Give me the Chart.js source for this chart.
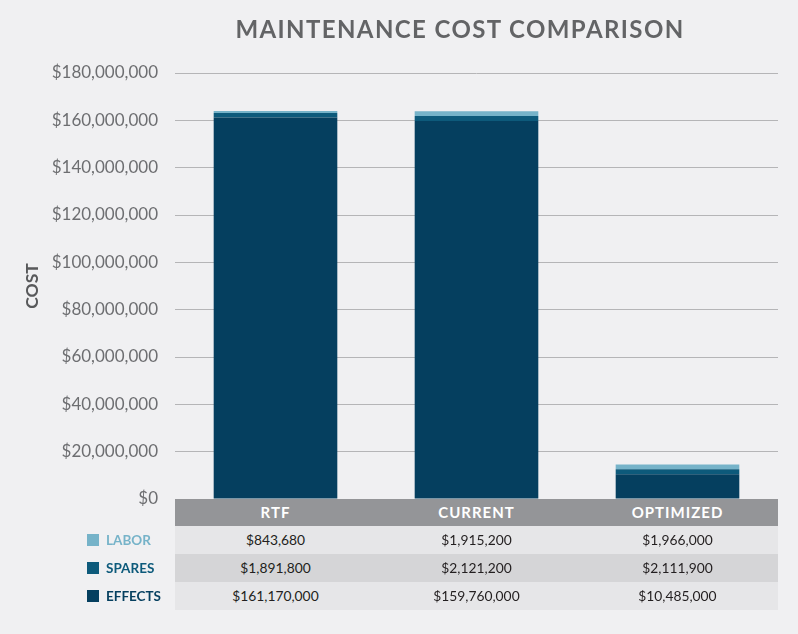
<!DOCTYPE html>
<html>
<head>
<meta charset="utf-8">
<script src="https://cdn.jsdelivr.net/npm/chart.js@4/dist/chart.umd.min.js"></script>
<style>
  html, body { margin: 0; padding: 0; background: #f0f0f2; }
  #wrap { position: relative; width: 798px; height: 634px; background: #f0f0f2; font-family: Lato, "Open Sans", sans-serif; }
  #title { position: absolute; left: 175px; width: 570px; top: 14px; text-align: center; font-size: 24px; font-weight: 700; color: #636466; letter-spacing: 1.4px; }
  .cell { position: absolute; text-align: center; box-sizing: border-box; }
  .hdr { background: #949598; color: #ffffff; font-weight: 700; font-size: 15px; letter-spacing: 1px; }
  .val { color: #231f20; font-size: 13.8px; }
  .leg { position: absolute; font-weight: 700; font-size: 13.5px; }
  .sw { position: absolute; width: 12px; height: 12px; }
</style>
</head>
<body>
<div id="wrap">
  <canvas id="c" width="798" height="634"></canvas>
  <div id="title">MAINTENANCE COST COMPARISON</div>
</div>
<script>
const categories = ["RTF", "CURRENT", "OPTIMIZED"];
const seriesNames = ["LABOR", "SPARES", "EFFECTS"];
const labor = [843680, 1915200, 1966000];
const spares = [1891800, 2121200, 2111900];
const effects = [161170000, 159760000, 10485000];
const seriesColors = ["#76b3c9", "#0d5a7b", "#053f5f"];
const yTicksMax = 180000000;
const yTickStep = 20000000;

function money(v) { return "$" + Number(v).toLocaleString("en-US"); }

const chart = new Chart(document.getElementById("c"), {
  type: "bar",
  data: {
    labels: categories,
    datasets: [
      { label: seriesNames[2], data: effects, backgroundColor: seriesColors[2] },
      { label: seriesNames[1], data: spares, backgroundColor: seriesColors[1] },
      { label: seriesNames[0], data: labor, backgroundColor: seriesColors[0] }
    ]
  },
  options: {
    responsive: false,
    animation: false,
    devicePixelRatio: 1,
    layout: { padding: { top: 73, right: 20, bottom: 135, left: 0 } },
    plugins: { legend: { display: false }, title: { display: false }, tooltip: { enabled: false } },
    datasets: { bar: { categoryPercentage: 1, barPercentage: 0.615, borderWidth: 0 } },
    scales: {
      x: { stacked: true, display: false },
      y: {
        stacked: true, min: 0, max: yTicksMax,
        ticks: { stepSize: yTickStep, color: "#6d6e71", padding: 17, font: { family: "Lato", size: 17 }, callback: v => money(v) },
        grid: { color: "#b5b5b7", lineWidth: 1, drawTicks: false },
        border: { display: false },
        title: { display: true, text: "COST", color: "#58595b", font: { family: "Lato", size: 17.5, weight: "bold" }, padding: { top: 22, bottom: 0 } },
        afterFit: s => { s.width = 175; }
      }
    }
  }
});

// data table under the chart aligned with the x scale
(function buildTable() {
  const wrap = document.getElementById("wrap");
  const ca = chart.chartArea;
  const xs = chart.scales.x;
  const colW = ca.width / categories.length;
  const top = ca.bottom;
  const hdrH = 27, rowH = 28;
  const rows = [labor, spares, effects];
  const rowBg = ["#e6e6e8", "#d5d5d7", "#e6e6e8"];
  const legColors = [seriesColors[0], seriesColors[1], seriesColors[2]];
  categories.forEach((c, i) => {
    const cx = xs.getPixelForValue(i);
    const d = document.createElement("div");
    d.className = "cell hdr";
    d.style.left = (cx - colW / 2) + "px"; d.style.width = colW + "px";
    d.style.top = top + "px"; d.style.height = hdrH + "px"; d.style.lineHeight = hdrH + "px";
    d.textContent = c;
    wrap.appendChild(d);
  });
  rows.forEach((vals, r) => {
    const y = top + hdrH + r * rowH;
    vals.forEach((v, i) => {
      const cx = xs.getPixelForValue(i);
      const d = document.createElement("div");
      d.className = "cell val";
      d.style.left = (cx - colW / 2) + "px"; d.style.width = colW + "px";
      d.style.top = y + "px"; d.style.height = rowH + "px"; d.style.lineHeight = rowH + "px";
      d.style.background = rowBg[r];
      d.textContent = money(v);
      wrap.appendChild(d);
    });
    const sw = document.createElement("div");
    sw.className = "sw";
    sw.style.left = "87px"; sw.style.top = (y + rowH / 2 - 6) + "px";
    sw.style.background = legColors[r];
    wrap.appendChild(sw);
    const lg = document.createElement("div");
    lg.className = "leg";
    lg.style.left = "106px"; lg.style.top = y + "px"; lg.style.lineHeight = rowH + "px";
    lg.style.color = legColors[r];
    lg.textContent = seriesNames[r];
    wrap.appendChild(lg);
  });
})();
</script>
</body>
</html>
